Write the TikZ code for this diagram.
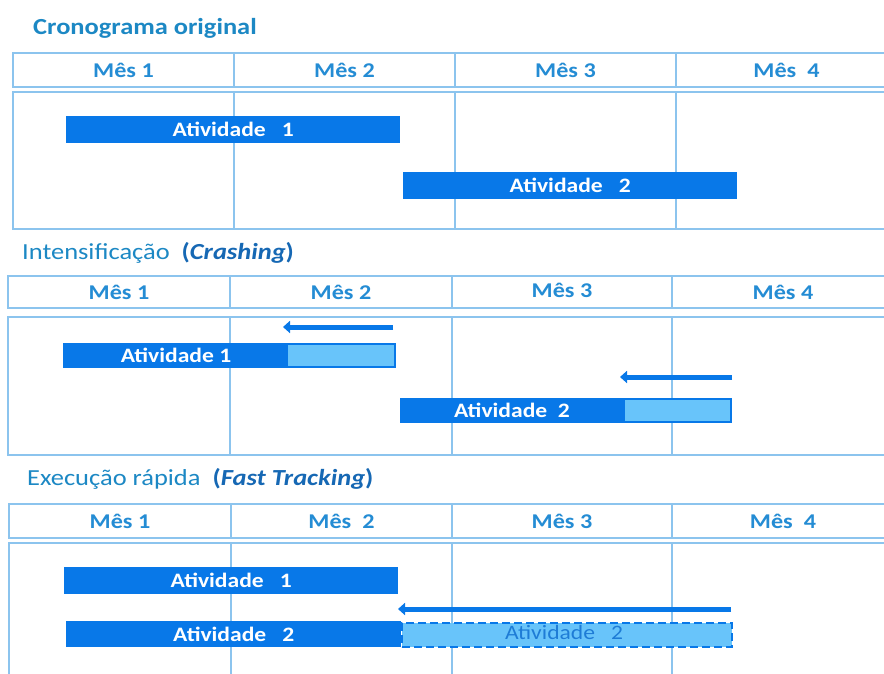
\documentclass[tikz,border=0pt]{standalone}
\usepackage{fontspec}
\usepackage{graphicx}
\setmainfont{Carlito}
\usetikzlibrary{arrows.meta}
\definecolor{barblue}{RGB}{8,120,232}
\definecolor{lightblue}{RGB}{104,196,250}
\definecolor{gridblue}{RGB}{140,196,238}
\definecolor{titleblue}{RGB}{28,136,196}
\definecolor{darktitle}{RGB}{22,104,180}
\definecolor{headblue}{RGB}{36,140,212}
\definecolor{ghostblue}{RGB}{30,124,214}
\newcommand{\hs}[1]{\scalebox{1.15}[1]{#1}}
\tikzset{
  gridline/.style={draw=gridblue, line width=2pt},
  titletext/.style={anchor=west, inner sep=0pt, text=titleblue, font=\fontsize{23}{26}\selectfont},
  headtext/.style={inner sep=0pt, text=headblue, font=\bfseries\fontsize{21}{24}\selectfont},
  bartext/.style={inner sep=0pt, text=white, font=\bfseries\fontsize{20.5}{24}\selectfont},
  darkbar/.style={fill=barblue, draw=none, inner sep=0pt, anchor=north west},
  lightpart/.style={fill=lightblue, draw=none, inner sep=0pt, anchor=north west},
  ghostbar/.style={fill=lightblue, draw=barblue, dash pattern=on 8pt off 4pt, line width=2.3pt, inner sep=0pt, anchor=north west},
  movearrow/.style={draw=barblue, line width=5pt, -{Triangle[length=7pt,width=12pt]}}
}
\begin{document}
\begin{tikzpicture}[x=1pt,y=-1pt]
\useasboundingbox (0,0) rectangle (884,673);
\clip (0,0) rectangle (884,673);
\fill[white] (0,0) rectangle (884,673);

% ---------------- Section 1 ----------------
\node[titletext] (t1) at (33,28) {\hs{\textbf{Cronograma original}}};
\draw[gridline] (13,53) rectangle (905,87);
\draw[gridline] (13,92) rectangle (905,229);
\foreach \x in {234,455,676}{
  \draw[gridline] (\x,53) -- (\x,87);
  \draw[gridline] (\x,92) -- (\x,229);
}
\node[headtext] (h11) at (123.5,70) {\hs{Mês 1}};
\node[headtext] (h12) at (344.5,70) {\hs{Mês 2}};
\node[headtext] (h13) at (565.5,70) {\hs{Mês 3}};
\node[headtext] (h14) at (786.5,70) {\hs{Mês\ \ 4}};
\node[darkbar, minimum width=334pt, minimum height=27pt] (a11) at (66,116) {};
\node[bartext] (l11) at (a11.center) {\hs{Atividade\ \ \ 1}};
\node[darkbar, minimum width=334pt, minimum height=27pt] (a12) at (403,172) {};
\node[bartext] (l12) at (a12.center) {\hs{Atividade\ \ \ 2}};

% ---------------- Section 2 ----------------
\node[titletext] (t2) at (22,253) {\hs{Intensificação\ \ \textcolor{darktitle}{\textbf{(\textit{Crashing})}}}};
\draw[gridline] (8,276) rectangle (905,308);
\draw[gridline] (8,317) rectangle (905,455);
\foreach \x in {230,452,672}{
  \draw[gridline] (\x,276) -- (\x,308);
  \draw[gridline] (\x,317) -- (\x,455);
}
\node[headtext] (h21) at (119,292) {\hs{Mês 1}};
\node[headtext] (h22) at (341,292) {\hs{Mês 2}};
\node[headtext] (h23) at (562,290) {\hs{Mês 3}};
\node[headtext] (h24) at (783,292) {\hs{Mês 4}};
\node[darkbar, minimum width=333pt, minimum height=25pt] (a21) at (63,343) {};
\node[lightpart, minimum width=106pt, minimum height=21pt] (c21) at (288,345) {};
\node[bartext] (l21) at (176,355.5) {\hs{Atividade 1}};
\coordinate (s21) at (393,327);
\coordinate (e21) at (283,327);
\draw[movearrow] (s21) -- (e21);
\node[darkbar, minimum width=332pt, minimum height=25pt] (a22) at (400,398) {};
\node[lightpart, minimum width=105pt, minimum height=21pt] (c22) at (625,400) {};
\node[bartext] (l22) at (512,410.5) {\hs{Atividade\ \ 2}};
\coordinate (s22) at (732,377);
\coordinate (e22) at (620,377);
\draw[movearrow] (s22) -- (e22);

% ---------------- Section 3 ----------------
\node[titletext] (t3) at (27,479) {\hs{Execução rápida\ \ \textcolor{darktitle}{\textbf{(\textit{Fast Tracking})}}}};
\draw[gridline] (9,504) rectangle (905,538);
\draw[gridline] (9,543) rectangle (905,700);
\foreach \x in {231,452,672}{
  \draw[gridline] (\x,504) -- (\x,538);
  \draw[gridline] (\x,543) -- (\x,700);
}
\node[headtext] (h31) at (120,521) {\hs{Mês 1}};
\node[headtext] (h32) at (341.5,521) {\hs{Mês\ \ 2}};
\node[headtext] (h33) at (562,521) {\hs{Mês 3}};
\node[headtext] (h34) at (783,521) {\hs{Mês\ \ 4}};
\node[darkbar, minimum width=334pt, minimum height=27pt] (a31) at (64,567) {};
\node[bartext] (l31) at (a31.center) {\hs{Atividade\ \ \ 1}};
\node[darkbar, minimum width=335pt, minimum height=26pt] (a32) at (66,621) {};
\node[bartext] (l32) at (a32.center) {\hs{Atividade\ \ \ 2}};
\node[ghostbar, minimum width=330pt, minimum height=24pt] (g32) at (401,622) {};
\node[inner sep=0pt, text=ghostblue, font=\fontsize{20.5}{24}\selectfont] (lg32) at (564,632) {\hs{Atividade\ \ \ 2}};
\coordinate (s31) at (731,609);
\coordinate (e31) at (398,609);
\draw[movearrow] (s31) -- (e31);
\end{tikzpicture}
\end{document}
